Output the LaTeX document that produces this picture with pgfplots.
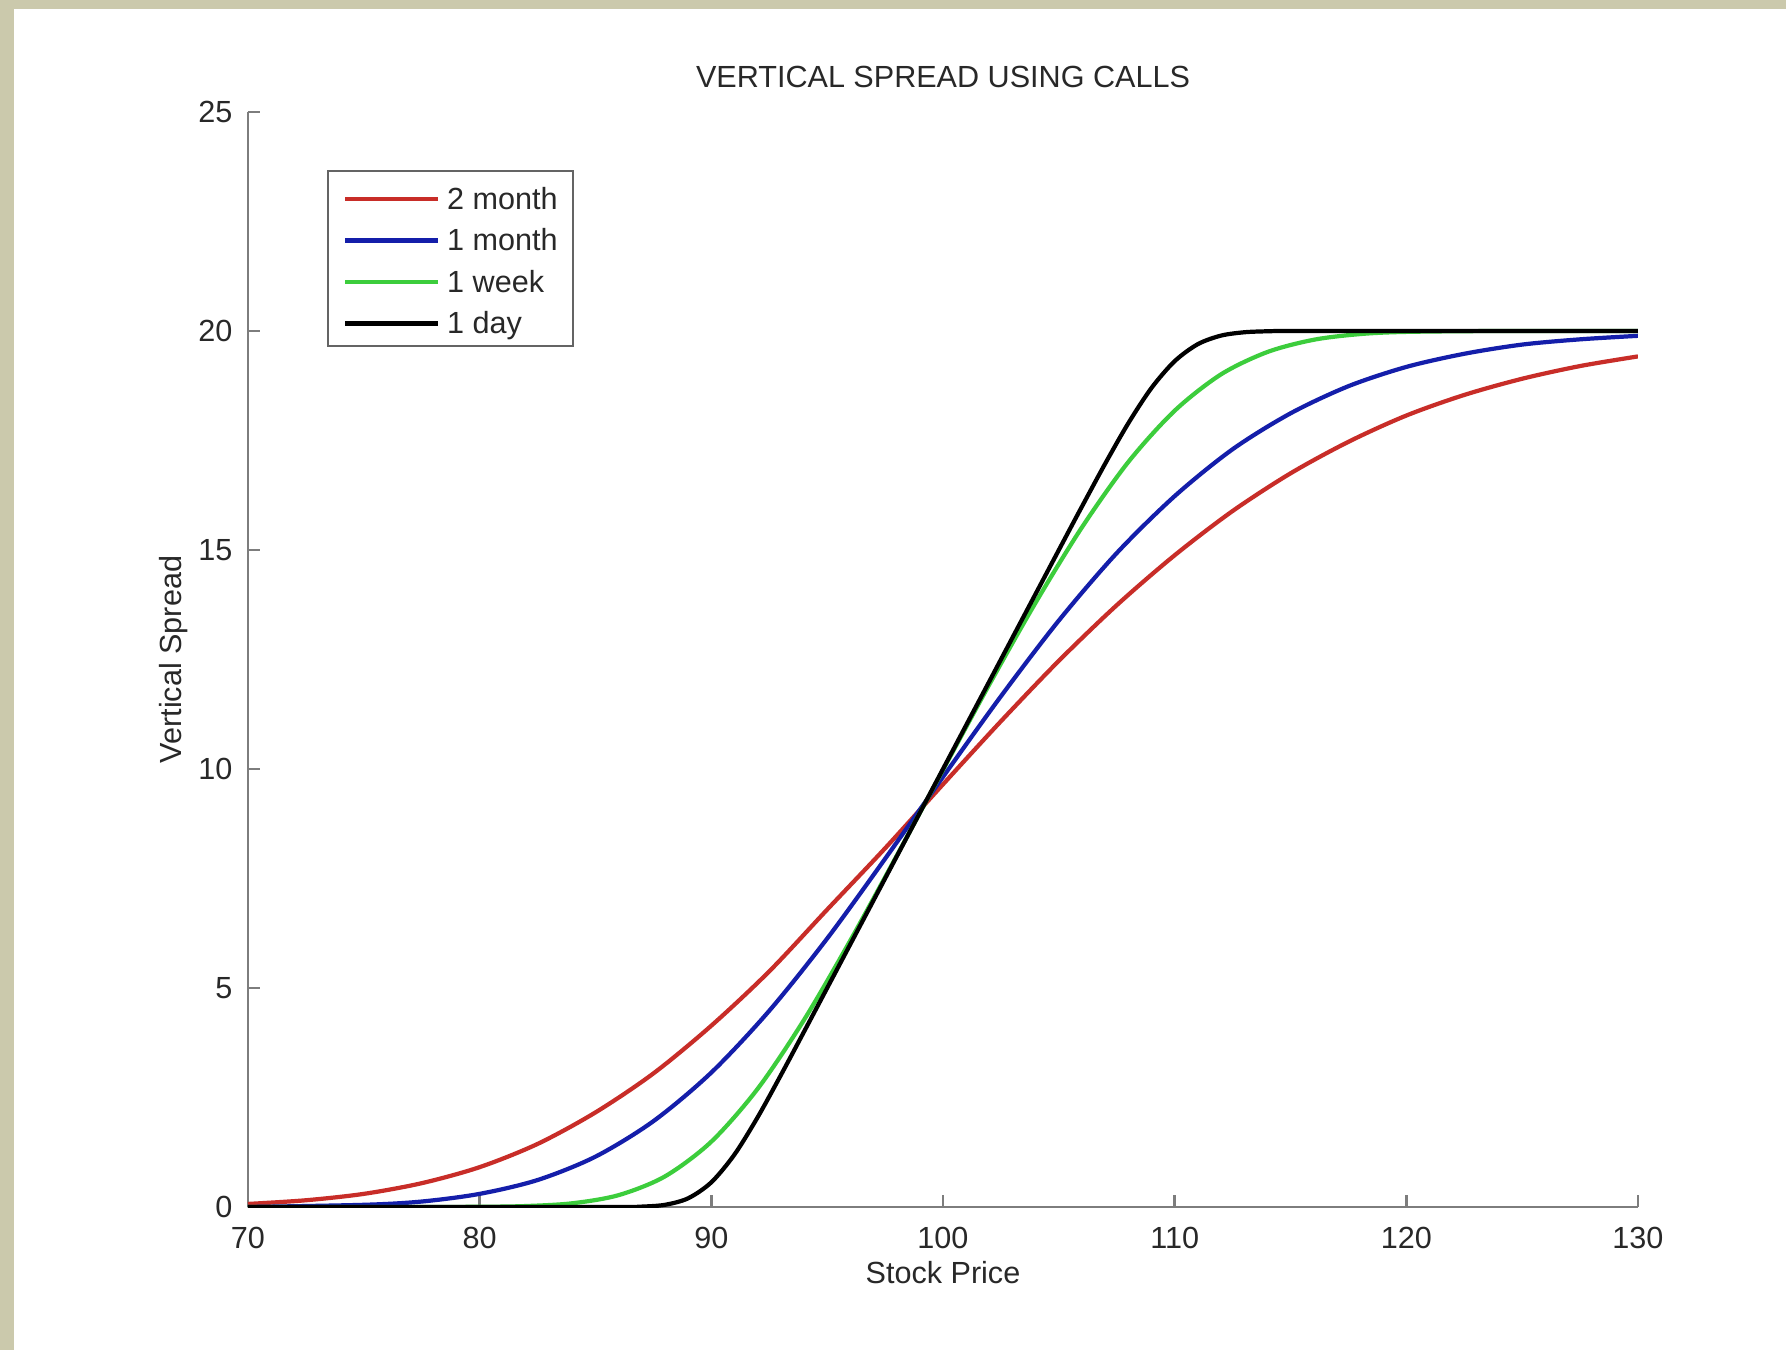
\documentclass[border=0pt]{standalone}
\usepackage{pgfplots}
\pgfplotsset{compat=1.18}
\usepackage{fontspec}
\setmainfont{Liberation Sans}

\definecolor{beige}{RGB}{203,201,172}
\definecolor{axisgray}{RGB}{125,125,125}
\definecolor{txtgray}{RGB}{40,40,40}
\definecolor{mred}{RGB}{200,45,40}
\definecolor{mblue}{RGB}{20,30,170}
\definecolor{mgreen}{RGB}{60,205,60}

\newcommand{\chartfont}{\fontsize{8.7}{10.4}\selectfont}

\begin{document}
\begin{tikzpicture}
\useasboundingbox (0,0) rectangle (17.86,13.5);
\fill[white] (0,0) rectangle (17.86,13.5);
\fill[beige] (0,0) rectangle (0.14,13.5);
\fill[beige] (0,13.41) rectangle (17.86,13.5);

\begin{axis}[
    at={(2.48cm,1.43cm)}, anchor=south west,
    scale only axis,
    width=13.9cm, height=10.95cm,
    xmin=70, xmax=130, ymin=0, ymax=25,
    axis lines=left,
    axis line style={-, draw=axisgray, line width=0.7pt},
    xtick={70,80,...,130},
    ytick={0,5,...,25},
    tick align=inside,
    major tick length=0.12cm,
    tick style={draw=axisgray, line width=0.7pt},
    /pgf/number format/assume math mode=true,
    tick label style={font=\chartfont, text=txtgray, inner sep=0pt},
    yticklabel style={xshift=-0.15cm},
    xticklabel style={yshift=-0.19cm},
    title={VERTICAL SPREAD USING CALLS},
    title style={font=\chartfont, text=txtgray, at={(axis description cs:0.5,1.0128)}, anchor=center},
    xlabel={Stock Price},
    ylabel={Vertical Spread},
    xlabel style={font=\chartfont, text=txtgray, at={(axis description cs:0.5,-0.0603)}, anchor=center},
    ylabel style={font=\chartfont, text=txtgray, at={(axis description cs:-0.0532,0.5)}, anchor=center},
    legend cell align=left,
    legend image code/.code={\draw[#1] (0cm,-0.03cm) -- (0.93cm,-0.03cm);},
    legend style={at={(0.0568,0.947)}, anchor=north west,
        draw=axisgray!80!black, line width=0.6pt, fill=white,
        font=\chartfont, text=txtgray,
        inner xsep=0.15cm, inner ysep=0.12cm, row sep=0.155cm,
        nodes={inner sep=0pt, text height=0.26cm, text depth=0cm},
        /tikz/every odd column/.append style={column sep=0.07cm}},
]
% 2 month
\addplot[mred, line width=1.2pt, smooth] coordinates {
    (70,0.07) (72.5,0.154) (75,0.30) (77.5,0.544) (80,0.91) (82.5,1.44)
    (85,2.16) (87.5,3.05) (90,4.14) (92.5,5.38) (95,6.79) (97.5,8.19)
    (100,9.65) (102.5,11.09) (105,12.47) (107.5,13.74) (110,14.88)
    (112.5,15.89) (115,16.75) (117.5,17.47) (120,18.07) (122.5,18.54)
    (125,18.91) (127.5,19.20) (130,19.42)
};
\addlegendentry{2 month}
% 1 month
\addplot[mblue, line width=1.2pt, smooth] coordinates {
    (70,0.00) (75,0.05) (77.5,0.125) (80,0.30) (82.5,0.616) (85,1.15)
    (87.5,1.96) (90,3.07) (92.5,4.48) (95,6.13) (97.5,7.95) (100,9.82)
    (102.5,11.66) (105,13.39) (107.5,14.93) (110,16.23) (112.5,17.30)
    (115,18.12) (117.5,18.74) (120,19.18) (122.5,19.48) (125,19.69)
    (127.5,19.81) (130,19.89)
};
\addlegendentry{1 month}
% 1 week
\addplot[mgreen, line width=1.2pt, smooth] coordinates {
    (70,0) (76,0) (80,0.005) (82,0.022) (84,0.085) (86,0.271) (88,0.699)
    (90,1.492) (92,2.699) (94,4.271) (96,6.085) (98,8.016) (100,9.98)
    (102,11.93) (104,13.80) (106,15.52) (108,17.01) (110,18.18) (112,19.01)
    (114,19.52) (116,19.80) (118,19.93) (120,19.98) (124,20.00) (130,20.00)
};
\addlegendentry{1 week}
% 1 day
\addplot[black, line width=1.2pt, smooth] coordinates {
    (70,0) (80,0) (86,0) (87,0.009) (88,0.050) (89,0.199) (90,0.564)
    (91,1.199) (92,2.050) (93,3.009) (94,4.001) (95,5.0) (100,10.0)
    (105,15.0) (106,15.994) (107,16.971) (108,17.895) (109,18.700)
    (110,19.311) (111,19.700) (112,19.895) (113,19.971) (114,19.994)
    (115,20.0) (120,20.0) (130,20.0)
};
\addlegendentry{1 day}
\end{axis}
\end{tikzpicture}
\end{document}
